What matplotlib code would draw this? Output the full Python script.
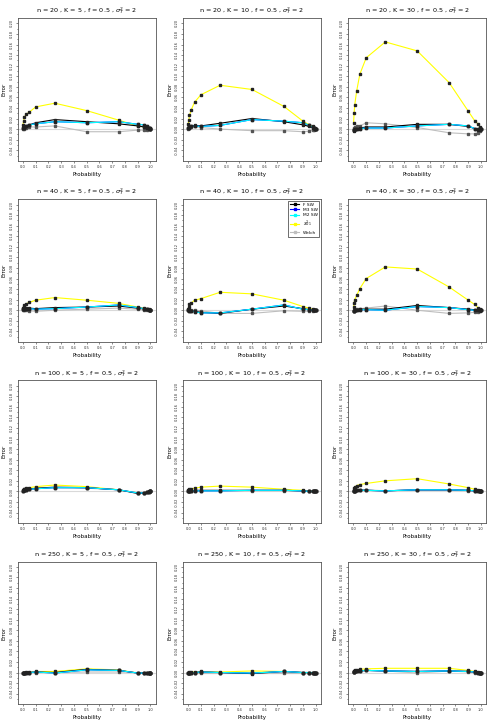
import numpy as np
import matplotlib
matplotlib.use("Agg")
import matplotlib.pyplot as plt
from matplotlib.lines import Line2D

# probabilities used on the x axis
prob = [0.001, 0.005, 0.01, 0.025, 0.05, 0.1, 0.25, 0.5, 0.75, 0.9, 0.95, 0.975, 0.99, 0.995, 0.999]

# panel settings (row by row)
n_vals = [20, 20, 20, 40, 40, 40, 100, 100, 100, 250, 250, 250]
k_vals = [5, 10, 30, 5, 10, 30, 5, 10, 30, 5, 10, 30]

# error values per panel, one list per method
f_sw = [
    [0.002, 0.004, 0.005, 0.006, 0.008, 0.012, 0.018, 0.014, 0.010, 0.006, 0.004, 0.003, 0.002, 0.001, 0.0],
    [0.003, 0.004, 0.005, 0.006, 0.007, 0.006, 0.011, 0.020, 0.014, 0.008, 0.005, 0.003, 0.002, 0.001, 0.0],
    [-0.002, -0.003, 0.0, 0.001, 0.002, 0.004, 0.004, 0.009, 0.009, 0.005, 0.001, -0.001, -0.001, 0.0, 0.0],
    [0.002, 0.003, 0.003, 0.004, 0.004, 0.003, 0.005, 0.006, 0.008, 0.004, 0.003, 0.002, 0.001, 0.0, 0.0],
    [0.0, 0.0, -0.001, -0.001, -0.002, -0.004, -0.006, 0.002, 0.008, 0.003, 0.001, 0.0, 0.0, 0.0, 0.0],
    [-0.002, -0.001, 0.0, 0.001, 0.002, 0.002, 0.002, 0.009, 0.005, 0.002, 0.001, 0.0, 0.0, 0.0, 0.0],
    [0.001, 0.002, 0.002, 0.003, 0.004, 0.006, 0.008, 0.007, 0.003, -0.004, -0.003, -0.002, -0.001, 0.0, 0.0],
    [0.0, 0.001, 0.001, 0.001, 0.002, 0.002, 0.002, 0.002, 0.002, 0.001, 0.0, 0.0, 0.0, 0.0, 0.0],
    [0.0, 0.001, 0.001, 0.002, 0.002, 0.002, 0.001, 0.003, 0.003, 0.002, 0.001, 0.0, 0.0, 0.0, 0.0],
    [-0.001, -0.001, -0.001, 0.0, 0.0, 0.001, 0.0, 0.006, 0.004, -0.001, -0.001, 0.0, 0.0, 0.0, 0.0],
    [0.0, 0.0, 0.0, 0.0, 0.0, 0.001, 0.0, -0.002, 0.002, 0.0, 0.0, 0.0, 0.0, 0.0, 0.0],
    [0.001, 0.001, 0.002, 0.003, 0.003, 0.004, 0.003, 0.002, 0.003, 0.002, 0.001, 0.0, 0.0, 0.0, 0.0],
]
m2_sw = [
    [0.002, 0.003, 0.004, 0.006, 0.008, 0.010, 0.014, 0.012, 0.014, 0.009, 0.008, 0.005, 0.003, 0.002, 0.0],
    [0.002, 0.003, 0.004, 0.005, 0.006, 0.005, 0.007, 0.018, 0.015, 0.012, 0.007, 0.004, 0.002, 0.001, 0.0],
    [-0.001, -0.002, 0.0, 0.001, 0.001, 0.002, 0.002, 0.006, 0.009, 0.006, 0.001, 0.0, 0.0, 0.0, 0.0],
    [0.002, 0.003, 0.003, 0.003, 0.003, 0.002, 0.003, 0.006, 0.010, 0.005, 0.003, 0.002, 0.001, 0.0, 0.0],
    [0.0, 0.0, -0.001, -0.001, -0.003, -0.005, -0.005, 0.002, 0.010, 0.002, 0.001, 0.0, 0.0, 0.0, 0.0],
    [-0.001, -0.001, 0.0, 0.0, 0.001, 0.001, 0.0, 0.007, 0.005, 0.001, 0.0, 0.0, 0.0, 0.0, 0.0],
    [0.001, 0.002, 0.002, 0.003, 0.004, 0.005, 0.007, 0.007, 0.003, -0.003, -0.003, -0.002, -0.001, 0.0, 0.0],
    [0.0, 0.001, 0.001, 0.001, 0.001, 0.001, 0.001, 0.002, 0.002, 0.001, 0.0, 0.0, 0.0, 0.0, 0.0],
    [0.0, 0.001, 0.001, 0.002, 0.002, 0.002, 0.001, 0.003, 0.003, 0.002, 0.001, 0.0, 0.0, 0.0, 0.0],
    [-0.001, -0.001, -0.001, 0.0, 0.0, 0.001, -0.001, 0.005, 0.004, -0.001, -0.001, 0.0, 0.0, 0.0, 0.0],
    [0.0, 0.0, 0.0, 0.0, 0.0, 0.001, 0.0, -0.001, 0.002, 0.0, 0.0, 0.0, 0.0, 0.0, 0.0],
    [0.001, 0.001, 0.002, 0.003, 0.003, 0.004, 0.003, 0.002, 0.003, 0.002, 0.001, 0.0, 0.0, 0.0, 0.0],
]
# M3 SW sits under M2 SW in every panel
m3_sw = [row[:] for row in m2_sw]
chi_g1 = [
    [0.008, 0.016, 0.022, 0.028, 0.032, 0.042, 0.049, 0.035, 0.017, 0.006, 0.004, 0.003, 0.002, 0.001, 0.0],
    [0.010, 0.017, 0.026, 0.037, 0.051, 0.065, 0.083, 0.075, 0.043, 0.015, 0.008, 0.005, 0.003, 0.002, 0.0],
    [0.012, 0.030, 0.046, 0.072, 0.104, 0.135, 0.165, 0.148, 0.088, 0.034, 0.016, 0.010, 0.004, 0.002, 0.001],
    [0.004, 0.007, 0.009, 0.012, 0.015, 0.019, 0.024, 0.019, 0.013, 0.006, 0.004, 0.003, 0.002, 0.001, 0.0],
    [0.003, 0.007, 0.011, 0.014, 0.019, 0.022, 0.034, 0.031, 0.019, 0.007, 0.004, 0.002, 0.001, 0.0, 0.0],
    [0.006, 0.014, 0.020, 0.028, 0.041, 0.060, 0.082, 0.078, 0.044, 0.019, 0.011, 0.005, 0.002, 0.001, 0.0],
    [0.002, 0.004, 0.005, 0.006, 0.007, 0.009, 0.012, 0.009, 0.003, -0.003, -0.003, -0.001, 0.0, 0.0, 0.0],
    [0.002, 0.003, 0.004, 0.005, 0.006, 0.008, 0.010, 0.008, 0.004, 0.002, 0.001, 0.0, 0.0, 0.0, 0.0],
    [0.003, 0.006, 0.008, 0.011, 0.013, 0.015, 0.020, 0.024, 0.014, 0.007, 0.004, 0.002, 0.001, 0.0, 0.0],
    [0.0, 0.0, 0.0, 0.001, 0.001, 0.002, 0.002, 0.007, 0.005, -0.001, 0.0, 0.0, 0.0, 0.0, 0.0],
    [0.0, 0.0, 0.001, 0.001, 0.001, 0.002, 0.001, 0.003, 0.002, 0.0, 0.0, 0.0, 0.0, 0.0, 0.0],
    [0.002, 0.003, 0.004, 0.005, 0.006, 0.007, 0.008, 0.008, 0.008, 0.004, 0.002, 0.001, 0.0, 0.0, 0.0],
]
welch = [
    [0.0, 0.001, 0.002, 0.003, 0.004, 0.004, 0.006, -0.005, -0.005, -0.002, -0.002, -0.001, 0.0, 0.0, 0.0],
    [0.0, 0.002, 0.003, 0.004, 0.005, 0.003, 0.0, -0.003, -0.003, -0.005, -0.004, -0.002, -0.001, 0.0, 0.0],
    [0.0, 0.002, 0.004, 0.005, 0.006, 0.012, 0.010, 0.003, -0.007, -0.009, -0.009, -0.007, -0.004, -0.002, 0.0],
    [0.0, 0.001, 0.001, 0.0, -0.001, -0.002, 0.0, 0.002, 0.004, 0.002, 0.001, 0.0, 0.0, 0.0, 0.0],
    [0.0, 0.001, 0.001, 0.001, 0.0, -0.001, -0.006, -0.006, -0.001, -0.002, -0.002, -0.001, 0.0, 0.0, 0.0],
    [-0.001, 0.0, 0.001, 0.002, 0.003, 0.004, 0.008, 0.0, -0.006, -0.005, -0.004, -0.003, -0.002, -0.001, 0.0],
    [0.001, 0.002, 0.002, 0.003, 0.004, 0.005, 0.007, 0.006, 0.003, -0.003, -0.003, -0.002, -0.001, 0.0, 0.0],
    [0.0, 0.0, 0.001, 0.001, 0.001, 0.001, 0.001, 0.001, 0.001, 0.0, 0.0, 0.0, 0.0, 0.0, 0.0],
    [0.0, 0.001, 0.001, 0.002, 0.003, 0.003, 0.001, 0.002, 0.002, 0.001, 0.0, 0.0, 0.0, 0.0, 0.0],
    [0.0, 0.0, 0.0, 0.0, 0.0, 0.0, 0.0, 0.001, 0.001, 0.0, 0.0, 0.0, 0.0, 0.0, 0.0],
    [0.0, 0.0, 0.0, 0.0, 0.0, 0.0, 0.0, 0.0, 0.0, 0.0, 0.0, 0.0, 0.0, 0.0, 0.0],
    [0.001, 0.001, 0.002, 0.002, 0.003, 0.004, 0.003, -0.001, 0.003, 0.001, 0.0, 0.0, 0.0, 0.0, 0.0],
]

method_names = ["F SW", "M3 SW", "M2 SW", r"$\chi^2_{G1}$", "Welch"]
method_colors = ["black", "blue", "cyan", "yellow", "#BEBEBE"]

fig, axes = plt.subplots(4, 3, figsize=(4.95, 7.26), dpi=100)
fig.subplots_adjust(left=0.036, right=0.982, top=0.975, bottom=0.030,
                    wspace=0.2, hspace=0.27)

for i, ax in enumerate(axes.flat):
    ax.axhline(0, color="#D9D9D9", lw=0.8, zorder=1)
    # draw order: Welch, chi2, F, M3, M2
    series = [welch[i], chi_g1[i], f_sw[i], m3_sw[i], m2_sw[i]]
    cols = ["#BEBEBE", "yellow", "black", "blue", "cyan"]
    for vals, c in zip(series, cols):
        ax.plot(prob, vals, color=c, lw=0.8, zorder=2)
        ax.plot(prob, vals, ls="none", marker="s", ms=2.1,
                color="#222222" if c != "#BEBEBE" else "#555555", zorder=3)

    ax.set_xlim(-0.04, 1.04)
    ax.set_ylim(-0.06, 0.21)
    ax.set_xticks(np.arange(0, 1.01, 0.1))
    ax.set_xticklabels(["%.1f" % t for t in np.arange(0, 1.01, 0.1)])
    yt = np.arange(-0.04, 0.201, 0.02)
    ax.set_yticks(yt)
    ax.set_yticklabels(["%.2f" % t for t in yt], rotation=90, va="center")
    ax.set_yticks(np.arange(-0.05, 0.201, 0.01), minor=True)
    ax.tick_params(labelsize=2.6, length=1.5, width=0.4, pad=1.5, colors="#333333")
    ax.tick_params(which="minor", length=1.0, width=0.4)
    for s in ax.spines.values():
        s.set_color("#555555")
        s.set_linewidth(0.6)
    ax.set_xlabel("Probability", fontsize=4, labelpad=2)
    ax.set_ylabel("Error", fontsize=4, labelpad=2)
    ax.set_title(r"n = %d , K = %d , f = 0.5 , $\sigma_T^2$ = 2" % (n_vals[i], k_vals[i]),
                 fontsize=4.6, pad=4)

handles = [Line2D([0], [0], color=c, lw=0.8, marker="s", ms=2) for c in method_colors]
axes[1, 1].legend(handles, method_names, loc="upper right", fontsize=3.2,
                  frameon=True, fancybox=False, edgecolor="black",
                  handlelength=2, borderpad=0.4, labelspacing=0.3,
                  borderaxespad=0.3).get_frame().set_linewidth(0.5)

plt.savefig("out.png", dpi=100)
